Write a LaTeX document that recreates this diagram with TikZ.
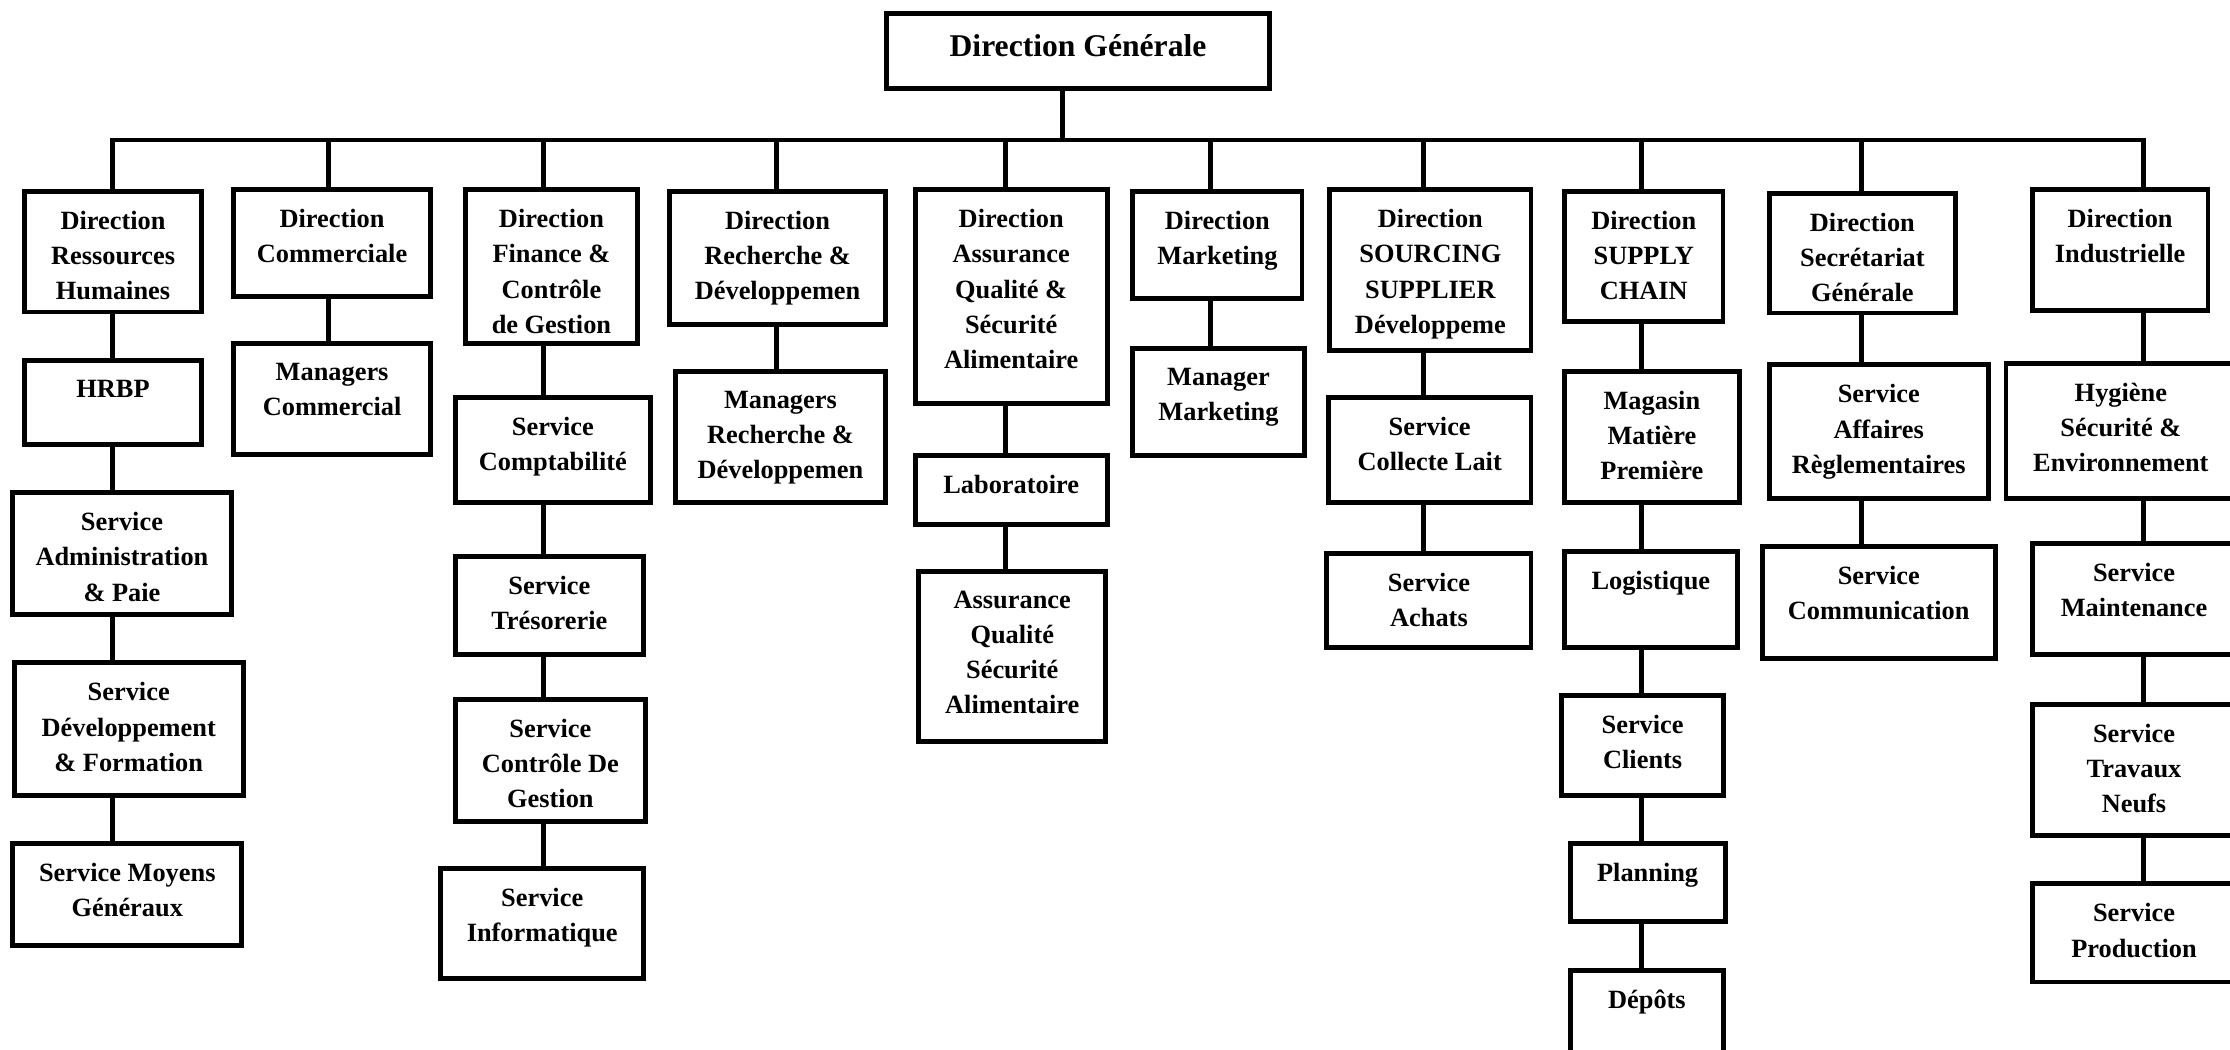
\documentclass[tikz,border=0pt]{standalone}
\usepackage{fontspec}
\setmainfont{Liberation Serif}
\usetikzlibrary{fit}

\begin{document}
\begin{tikzpicture}[
  x=0.014222cm, y=-0.014222cm,
  obox/.style={draw, line width=1.4pt, inner sep=0pt, outer sep=0pt},
  otext/.style={anchor=north, inner sep=0pt, outer sep=0pt, yshift=-5.6pt, align=center, font=\fontsize{7.5}{10}\selectfont\bfseries},
  ttext/.style={anchor=center, inner sep=0pt, outer sep=0pt, yshift=1.6pt, font=\fontsize{9}{11}\selectfont\bfseries},
  link/.style={line width=1.3pt},
]
\path[use as bounding box, clip] (0,0) rectangle (1568,738);

% Top
\node[obox, fit={(623.5,9.4) (892.5,62.4)}, label={[ttext]center:{Direction Générale}}] (dg) {};

% Bus
\coordinate (trunk) at (747,98.5);
\coordinate (c1) at (79,98.5);
\coordinate (c2) at (231,98.5);
\coordinate (c3) at (382,98.5);
\coordinate (c4) at (546,98.5);
\coordinate (c5) at (707,98.5);
\coordinate (c6) at (851,98.5);
\coordinate (c7) at (1001,98.5);
\coordinate (c8) at (1154,98.5);
\coordinate (c9) at (1309,98.5);
\coordinate (c10) at (1507,98.5);

% Ressources Humaines
\node[obox, fit={(17.5,134.4) (141.5,219.4)}, label={[otext]north:{Direction\\Ressources\\Humaines}}] (drh) {};
\node[obox, fit={(17.5,253.8) (141.5,312.6)}, label={[otext]north:{HRBP}}] (hrbp) {};
\node[obox, fit={(9,346.5) (162.5,432.2)}, label={[otext]north:{Service\\Administration\\\& Paie}}] (sadm) {};
\node[obox, fit={(10,466.1) (171,559.4)}, label={[otext]north:{Service\\Développement\\\& Formation}}] (sdev) {};
\node[obox, fit={(9,593.3) (170,665)}, label={[otext]north:{Service Moyens\\Généraux}}] (smg) {};

% Commerciale
\node[obox, fit={(164,133.5) (303,208.3)}, label={[otext]north:{Direction\\Commerciale}}] (dcom) {};
\node[obox, fit={(164,241.3) (303,319.7)}, label={[otext]north:{Managers\\Commercial}}] (mcom) {};

% Finance
\node[obox, fit={(327.5,133.5) (448,241.3)}, label={[otext]north:{Direction\\Finance \&\\Contrôle\\de Gestion}}] (dfin) {};
\node[obox, fit={(320,279.7) (457.5,353.1)}, label={[otext]north:{Service\\Comptabilité}}] (scpt) {};
\node[obox, fit={(320,391.5) (452.5,460.5)}, label={[otext]north:{Service\\Trésorerie}}] (stres) {};
\node[obox, fit={(320,492) (454,577.5)}, label={[otext]north:{Service\\Contrôle De\\Gestion}}] (scdg) {};
\node[obox, fit={(310,610.4) (452.5,688.1)}, label={[otext]north:{Service\\Informatique}}] (sinf) {};

% Recherche
\node[obox, fit={(471,134.4) (622.5,228.3)}, label={[otext]north:{Direction\\Recherche \&\\Développemen}}] (drd) {};
\node[obox, fit={(475,261.3) (622.5,353.1)}, label={[otext]north:{Managers\\Recherche \&\\Développemen}}] (mrd) {};

% Qualite
\node[obox, fit={(643.5,133.5) (778.5,283.7)}, label={[otext]north:{Direction\\Assurance\\Qualité \&\\Sécurité\\Alimentaire}}] (daq) {};
\node[obox, fit={(643.5,320.6) (778.5,368.5)}, label={[otext]north:{Laboratoire}}] (labo) {};
\node[obox, fit={(646,401.6) (777.5,521.5)}, label={[otext]north:{Assurance\\Qualité\\Sécurité\\Alimentaire}}] (aqsa) {};

% Marketing
\node[obox, fit={(796.5,134.4) (915.5,210.2)}, label={[otext]north:{Direction\\Marketing}}] (dmkt) {};
\node[obox, fit={(796.5,245.3) (917,320.2)}, label={[otext]north:{Manager\\Marketing}}] (mmkt) {};

% Sourcing
\node[obox, fit={(935,133.5) (1076.5,246.7)}, label={[otext]north:{Direction\\SOURCING\\SUPPLIER\\Développeme}}] (dsrc) {};
\node[obox, fit={(934,279.7) (1076.5,353.1)}, label={[otext]north:{Service\\Collecte Lait}}] (scl) {};
\node[obox, fit={(933,389.2) (1076.5,455.1)}, label={[otext]north:{Service\\Achats}}] (sach) {};

% Supply chain
\node[obox, fit={(1100,134.4) (1211.5,226)}, label={[otext]north:{Direction\\SUPPLY\\CHAIN}}] (dsc) {};
\node[obox, fit={(1100,261.3) (1223,353.1)}, label={[otext]north:{Magasin\\Matière\\Première}}] (mmp) {};
\node[obox, fit={(1100,388) (1221.5,455.1)}, label={[otext]north:{Logistique}}] (logi) {};
\node[obox, fit={(1098,489.2) (1212,559.4)}, label={[otext]north:{Service\\Clients}}] (scli) {};
\node[obox, fit={(1104,593.3) (1213,648.1)}, label={[otext]north:{Planning}}] (plan) {};
\node[obox, fit={(1104,682.2) (1212,770)}, label={[otext]north:{Dépôts}}] (depo) {};

% Secretariat
\node[obox, fit={(1244,135.8) (1375,220.1)}, label={[otext]north:{Direction\\Secrétariat\\Générale}}] (dsg) {};
\node[obox, fit={(1244,256.6) (1398,350.8)}, label={[otext]north:{Service\\Affaires\\Règlementaires}}] (sar) {};
\node[obox, fit={(1239,384.5) (1403,463.3)}, label={[otext]north:{Service\\Communication}}] (scom) {};

% Industrielle
\node[obox, fit={(1429,133.5) (1552.5,218.5)}, label={[otext]north:{Direction\\Industrielle}}] (dind) {};
\node[obox, fit={(1410.5,255.4) (1572,350.8)}, label={[otext]north:{Hygiène\\Sécurité \&\\Environnement}}] (hse) {};
\node[obox, fit={(1429,382.1) (1572,460.5)}, label={[otext]north:{Service\\Maintenance}}] (smnt) {};
\node[obox, fit={(1429,495.1) (1572,587.6)}, label={[otext]north:{Service\\Travaux\\Neufs}}] (stn) {};
\node[obox, fit={(1429,621.5) (1572,690.5)}, label={[otext]north:{Service\\Production}}] (sprod) {};

% Links to the bus
\draw[link] (dg.south -| trunk) -- (trunk);
\draw[link] (drh.north -| c1) -- (c1) -- (c10) -- (dind.north -| c10);
\draw[link] (c2) -- (dcom.north -| c2);
\draw[link] (c3) -- (dfin.north -| c3);
\draw[link] (c4) -- (drd.north -| c4);
\draw[link] (c5) -- (daq.north -| c5);
\draw[link] (c6) -- (dmkt.north -| c6);
\draw[link] (c7) -- (dsrc.north -| c7);
\draw[link] (c8) -- (dsc.north -| c8);
\draw[link] (c9) -- (dsg.north -| c9);

% Chains
\draw[link] (drh.south -| c1) -- (hrbp.north -| c1);
\draw[link] (hrbp.south -| c1) -- (sadm.north -| c1);
\draw[link] (sadm.south -| c1) -- (sdev.north -| c1);
\draw[link] (sdev.south -| c1) -- (smg.north -| c1);
\draw[link] (dcom.south -| c2) -- (mcom.north -| c2);
\draw[link] (dfin.south -| c3) -- (scpt.north -| c3);
\draw[link] (scpt.south -| c3) -- (stres.north -| c3);
\draw[link] (stres.south -| c3) -- (scdg.north -| c3);
\draw[link] (scdg.south -| c3) -- (sinf.north -| c3);
\draw[link] (drd.south -| c4) -- (mrd.north -| c4);
\draw[link] (daq.south -| c5) -- (labo.north -| c5);
\draw[link] (labo.south -| c5) -- (aqsa.north -| c5);
\draw[link] (dmkt.south -| c6) -- (mmkt.north -| c6);
\draw[link] (dsrc.south -| c7) -- (scl.north -| c7);
\draw[link] (scl.south -| c7) -- (sach.north -| c7);
\draw[link] (dsc.south -| c8) -- (mmp.north -| c8);
\draw[link] (mmp.south -| c8) -- (logi.north -| c8);
\draw[link] (logi.south -| c8) -- (scli.north -| c8);
\draw[link] (scli.south -| c8) -- (plan.north -| c8);
\draw[link] (plan.south -| c8) -- (depo.north -| c8);
\draw[link] (dsg.south -| c9) -- (sar.north -| c9);
\draw[link] (sar.south -| c9) -- (scom.north -| c9);
\draw[link] (dind.south -| c10) -- (hse.north -| c10);
\draw[link] (hse.south -| c10) -- (smnt.north -| c10);
\draw[link] (smnt.south -| c10) -- (stn.north -| c10);
\draw[link] (stn.south -| c10) -- (sprod.north -| c10);
\end{tikzpicture}
\end{document}
